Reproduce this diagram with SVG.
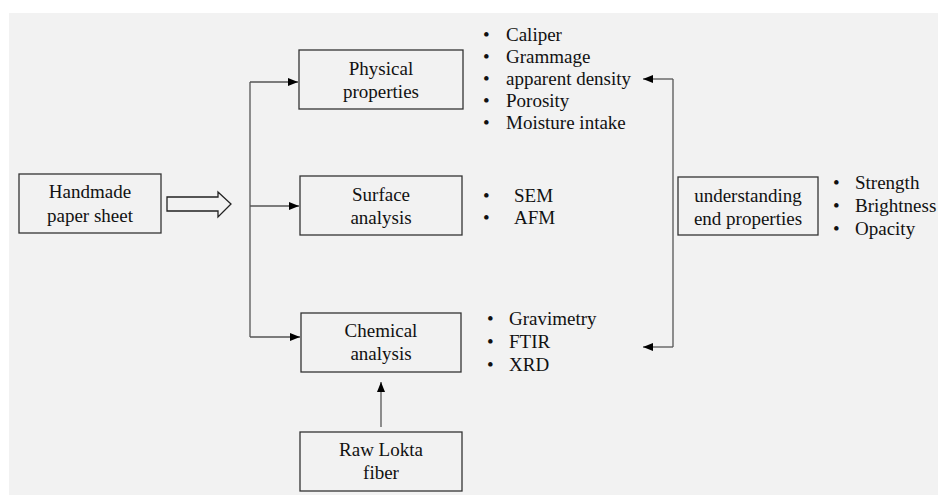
<svg xmlns="http://www.w3.org/2000/svg" width="938" height="495" viewBox="0 0 938 495">
<style>
text{font-family:'Liberation Serif','Times New Roman',serif;font-size:19px;fill:#111}
.c{text-anchor:middle}
.box{fill:none;stroke:#333;stroke-width:1.3}
.ln{fill:none;stroke:#555;stroke-width:1.3}
</style>
<defs>
<marker id="ah" viewBox="0 0 10 8" refX="10" refY="4" markerWidth="10" markerHeight="8" markerUnits="userSpaceOnUse" orient="auto">
<path d="M0,0 L10,4 L0,8 Z" fill="#000"/>
</marker>
</defs>
<rect x="9" y="13" width="929" height="482" fill="#f2f2f2"/>
<g id="connectors">
<polygon points="167,197 218,197 218,192 231,204 218,217 218,211 167,211" fill="none" stroke="#222" stroke-width="1.3"/>
<path class="ln" d="M250,82 V337"/>
<path class="ln" d="M250,82 H298" marker-end="url(#ah)"/>
<path class="ln" d="M250,206 H299" marker-end="url(#ah)"/>
<path class="ln" d="M250,337 H300" marker-end="url(#ah)"/>
<path class="ln" d="M673,79 V347"/>
<path class="ln" d="M673,79 H643" marker-end="url(#ah)"/>
<path class="ln" d="M673,347 H643" marker-end="url(#ah)"/>
<path class="ln" d="M381,427 V382" marker-end="url(#ah)"/>
</g>
<g id="handmade">
<rect class="box" x="19" y="174" width="142" height="59"/>
<text class="c" x="90" y="198">Handmade</text>
<text class="c" x="90" y="222">paper sheet</text>
</g>
<g id="physical">
<rect class="box" x="299" y="50" width="164" height="59"/>
<text class="c" x="381" y="75">Physical</text>
<text class="c" x="381" y="98">properties</text>
</g>
<g id="physical-list">
<text x="483" y="41">•</text><text x="506" y="41">Caliper</text>
<text x="483" y="63">•</text><text x="506" y="63">Grammage</text>
<text x="483" y="85">•</text><text x="506" y="85">apparent density</text>
<text x="483" y="107">•</text><text x="506" y="107">Porosity</text>
<text x="483" y="129">•</text><text x="506" y="129">Moisture intake</text>
</g>
<g id="surface">
<rect class="box" x="300" y="176" width="162" height="59"/>
<text class="c" x="381" y="201">Surface</text>
<text class="c" x="381" y="224">analysis</text>
</g>
<g id="surface-list">
<text x="483" y="202">•</text><text x="514" y="202">SEM</text>
<text x="483" y="224">•</text><text x="514" y="224">AFM</text>
</g>
<g id="chemical">
<rect class="box" x="301" y="313" width="160" height="59"/>
<text class="c" x="381" y="337">Chemical</text>
<text class="c" x="381" y="360">analysis</text>
</g>
<g id="chemical-list">
<text x="487" y="325">•</text><text x="509" y="325">Gravimetry</text>
<text x="487" y="348">•</text><text x="509" y="348">FTIR</text>
<text x="487" y="371">•</text><text x="509" y="371">XRD</text>
</g>
<g id="raw">
<rect class="box" x="300" y="432" width="162" height="59"/>
<text class="c" x="381" y="456">Raw Lokta</text>
<text class="c" x="381" y="479">fiber</text>
</g>
<g id="understanding">
<rect class="box" x="678" y="177" width="140" height="58"/>
<text class="c" x="748" y="202">understanding</text>
<text class="c" x="748" y="225">end properties</text>
</g>
<g id="end-list">
<text x="833" y="189">•</text><text x="855" y="189">Strength</text>
<text x="833" y="212">•</text><text x="855" y="212">Brightness</text>
<text x="833" y="235">•</text><text x="855" y="235">Opacity</text>
</g>
</svg>
